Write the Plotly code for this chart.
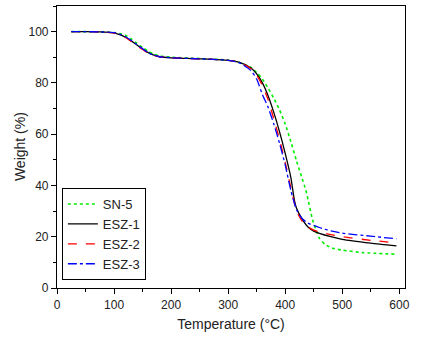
import plotly.graph_objects as go

temp_esz1 = [25, 50, 75, 100, 110, 120, 130, 140, 150, 160, 170, 180, 200, 250, 300, 320, 340, 350, 360, 370, 380, 390, 400, 410, 416, 420, 430, 440, 450, 460, 480, 500, 550, 595]
w_esz1 = [100, 100, 99.9, 99.5, 98.8, 97.8, 96.4, 94.8, 93.2, 91.8, 90.8, 90.2, 89.8, 89.4, 88.8, 88.0, 85.8, 83.5, 80.0, 75.0, 68.5, 61.0, 52.5, 43.0, 34.4, 31.0, 26.8, 23.8, 22.2, 21.3, 20.0, 19.0, 17.5, 16.4]

temp_esz2 = [25, 50, 75, 100, 110, 120, 130, 140, 150, 160, 170, 180, 200, 250, 300, 320, 340, 350, 360, 370, 380, 390, 400, 410, 420, 430, 440, 450, 460, 480, 500, 550, 595]
w_esz2 = [100, 100, 99.9, 99.5, 98.8, 97.7, 96.2, 94.6, 93.0, 91.6, 90.7, 90.2, 89.8, 89.4, 88.8, 88.0, 85.5, 83.0, 79.0, 73.5, 66.0, 58.0, 49.0, 39.0, 30.0, 26.0, 23.8, 22.6, 21.8, 20.8, 20.0, 18.6, 17.6]

temp_esz3 = [25, 50, 75, 100, 110, 120, 130, 140, 150, 160, 170, 180, 200, 250, 300, 320, 340, 350, 360, 370, 380, 390, 400, 410, 420, 430, 440, 450, 460, 480, 500, 550, 595]
w_esz3 = [100, 100, 99.9, 99.6, 99.0, 98.0, 96.6, 95.0, 93.3, 91.8, 90.8, 90.2, 89.8, 89.4, 88.8, 87.8, 84.8, 81.5, 75.5, 70.5, 64.0, 56.5, 48.0, 38.0, 30.5, 27.0, 25.3, 24.4, 23.6, 22.3, 21.4, 20.2, 19.2]

temp_sn5 = [25, 50, 75, 100, 110, 120, 130, 140, 150, 160, 170, 180, 200, 250, 300, 320, 340, 350, 360, 370, 380, 390, 400, 410, 420, 425, 430, 436, 440, 448, 455, 460, 470, 483, 500, 536, 595]
w_sn5 = [100, 100, 99.9, 99.6, 99.3, 98.6, 97.2, 95.5, 93.8, 92.3, 91.2, 90.5, 90.0, 89.5, 88.9, 88.0, 86.0, 84.0, 81.5, 78.0, 74.0, 69.5, 64.0, 57.0, 49.5, 46.0, 42.5, 38.3, 34.5, 26.6, 22.0, 19.4, 17.0, 15.5, 14.8, 13.8, 13.2]

series = [
    ("SN-5", temp_sn5, w_sn5, "#00ee00", "dot", 1.6),
    ("ESZ-1", temp_esz1, w_esz1, "#000000", "solid", 1.3),
    ("ESZ-2", temp_esz2, w_esz2, "#ff0000", "dash", 1.3),
    ("ESZ-3", temp_esz3, w_esz3, "#0000ff", "dashdot", 1.3),
]

x_ticks = [0, 100, 200, 300, 400, 500, 600]
y_ticks = [0, 20, 40, 60, 80, 100]

FONT = "Liberation Sans, Arial"

fig = go.Figure()
for name, x, y, c, d, w in series:
    fig.add_trace(go.Scatter(x=x, y=y, name=name, mode="lines",
                             line=dict(color=c, dash=d, width=w, shape="spline", smoothing=0.6)))

axis_common = dict(
    showline=True, linecolor="black", linewidth=1.2, mirror=True,
    ticks="outside", ticklen=5, tickcolor="black", tickwidth=1,
    showgrid=False, zeroline=False, automargin=False,
    tickfont=dict(family=FONT, size=12, color="#222"),
    minor=dict(ticks="outside", ticklen=3, tickcolor="black", showgrid=False),
)

fig.update_xaxes(range=[0, 610], tickvals=x_ticks, **axis_common,
                 title=dict(text="Temperature (°C)", font=dict(family=FONT, size=14, color="#222"), standoff=8))
fig.update_yaxes(range=[0, 110], tickvals=y_ticks, **axis_common)
fig.update_xaxes(minor=dict(dtick=50, tick0=0))
fig.update_yaxes(minor=dict(dtick=10, tick0=0))

fig.add_annotation(text="Weight (%)", xref="paper", yref="paper", x=-0.106, y=0.5,
                   xanchor="center", yanchor="middle", textangle=-90, showarrow=False,
                   font=dict(family=FONT, size=14, color="#222"))

fig.update_layout(
    width=426, height=339,
    margin=dict(l=57, r=21, t=6, b=51, autoexpand=False),
    paper_bgcolor="white", plot_bgcolor="white",
    showlegend=True,
    legend=dict(x=0.014, y=0.028, xanchor="left", yanchor="bottom",
                bordercolor="black", borderwidth=1, bgcolor="white",
                font=dict(family=FONT, size=13, color="#222"),
                tracegroupgap=0, itemwidth=30),
)

fig.write_html("out.html", config={"displayModeBar": False},
               post_script="document.body.style.margin='0';document.body.style.overflow='hidden';")
